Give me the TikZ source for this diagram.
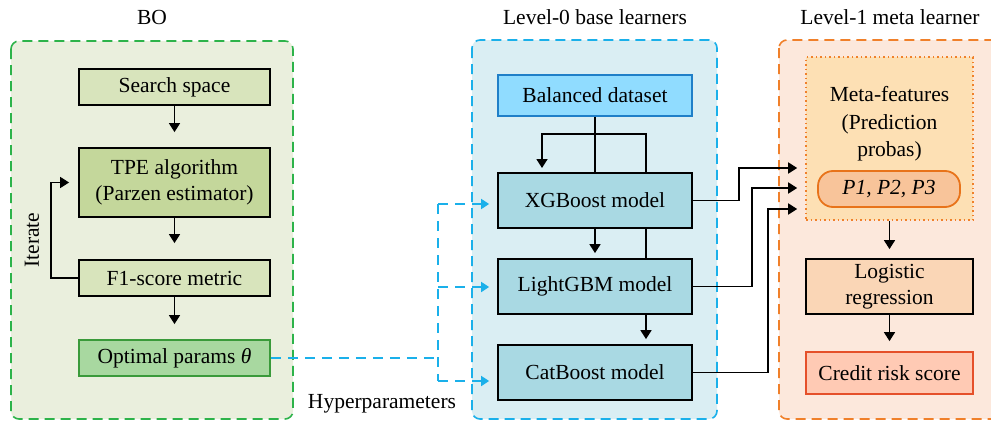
\documentclass[tikz,border=0pt]{standalone}
\usepackage{fontspec}
\setmainfont{Liberation Serif}
\usetikzlibrary{arrows.meta,calc}

% palette
\definecolor{boFill}{HTML}{EAEFDD}
\definecolor{boLine}{HTML}{2DB34A}
\definecolor{lgreen}{HTML}{D8E4BC}
\definecolor{mgreen}{HTML}{C4D79B}
\definecolor{optFill}{HTML}{A8D8A0}
\definecolor{optLine}{HTML}{3A9A3A}
\definecolor{lzFill}{HTML}{DAEEF3}
\definecolor{lzLine}{HTML}{1AB0EA}
\definecolor{balFill}{HTML}{90DCFF}
\definecolor{balLine}{HTML}{1F7FC8}
\definecolor{modFill}{HTML}{A9D9E3}
\definecolor{loFill}{HTML}{FCE8DC}
\definecolor{loLine}{HTML}{F0802A}
\definecolor{metaFill}{HTML}{FDE0B4}
\definecolor{pFill}{HTML}{F8C49A}
\definecolor{pLine}{HTML}{E8731A}
\definecolor{logFill}{HTML}{FAD6B6}
\definecolor{crFill}{HTML}{FFCAB4}
\definecolor{crLine}{HTML}{E5502A}

\tikzset{
  panel/.style={line width=1.6pt, rounded corners=8pt, dash pattern=on 10pt off 6pt},
  block/.style={draw, line width=1.8pt, inner sep=0pt, align=center,
    font=\fontsize{21.5}{26}\selectfont},
  txt/.style={inner sep=0pt, align=center, font=\fontsize{21.5}{27.5}\selectfont},
  arr/.style={line width=1.7pt, -{Triangle[width=11pt,length=9pt]}},
  link/.style={line width=1.7pt},
  hyp/.style={line width=1.8pt, draw=lzLine, dash pattern=on 10pt off 7pt},
  hyparr/.style={hyp, -{Triangle[width=10pt,length=8pt]}},
}

\begin{document}
\begin{tikzpicture}[x=1pt,y=-1pt]
\useasboundingbox (0,0) rectangle (991,423);
\clip (0,0) rectangle (991,423);

% ---- panels ----
\draw[panel, fill=boFill, draw=boLine] (11,41) rectangle (293,419);
\draw[panel, fill=lzFill, draw=lzLine] (472,40) rectangle (717,419);
\draw[panel, fill=loFill, draw=loLine] (779,40) rectangle (1005,419);

\node[txt] (tBO) at (152,17) {BO};
\node[txt] (tL0) at (595,17) {Level-0 base learners};
\node[txt] (tL1) at (890,17) {Level-1 meta learner};

% ---- Bayesian optimisation ----
\node[block, fill=lgreen, minimum width=191pt, minimum height=36pt] (search) at (174.5,87) {Search space};
\node[block, fill=mgreen, minimum width=191pt, minimum height=69pt] (tpe) at (174.5,182.5) {TPE algorithm\\(Parzen estimator)};
\node[block, fill=lgreen, minimum width=191pt, minimum height=36pt] (f1) at (174.5,278) {F1-score metric};
\node[block, fill=optFill, draw=optLine, minimum width=191pt, minimum height=36pt] (opt) at (174.5,358) {Optimal params \textit{θ}};
\node[txt, rotate=90] (iter) at (32,240) {Iterate};

\draw[arr, shorten >=15pt] (search) -- (tpe);
\draw[arr, shorten >=16pt] (tpe) -- (f1);
\draw[arr, shorten >=15pt] (f1) -- (opt);
\draw[arr, shorten >=9pt] (f1.west) -- ++(-27,0) |- (tpe.west);

% ---- level-0 base learners ----
\node[block, fill=balFill, draw=balLine, minimum width=194pt, minimum height=41pt] (bal) at (595,95.5) {Balanced dataset};

\coordinate (j0) at (595,134);
\draw[link] (bal.south) -- (595,173);
\draw[arr, shorten >=5pt] (j0) -| (542,173);
\draw[link] (j0) -| (646,173);
\draw[link] (646,228) -- (646,259);

\node[block, fill=modFill, minimum width=194pt, minimum height=55pt] (xgb) at (595,200.5) {XGBoost model};
\node[block, fill=modFill, minimum width=194pt, minimum height=55pt] (lgb) at (595,286.5) {LightGBM model};
\node[block, fill=modFill, minimum width=194pt, minimum height=55pt] (cat) at (595,372.5) {CatBoost model};

\draw[arr, shorten >=5pt] (xgb) -- (lgb);
\draw[arr, shorten >=5pt] ([xshift=51pt]lgb.south) -- ([xshift=51pt]cat.north);

% ---- hyperparameter hand-off ----
\coordinate (hb) at (438,358);
\draw[hyp] (opt.east) -- (hb);
\draw[hyp] (438,204) -- (438,381);
\draw[hyparr] (438,204) -- ([xshift=-8pt,yshift=-3.5pt]xgb.west);
\draw[hyparr] (438,287) -- ([xshift=-8pt,yshift=-0.5pt]lgb.west);
\draw[hyparr] (438,381) -- ([xshift=-8pt,yshift=-8.5pt]cat.west);
\node[txt, anchor=base] (hyplab) at (382,408) {Hyperparameters};

% ---- level-1 meta learner ----
\node[draw=loLine, fill=metaFill, line width=1.6pt, dash pattern=on 1.5pt off 3pt,
      minimum width=167pt, minimum height=163pt, inner sep=0pt] (meta) at (889.5,138.5) {};
\node[txt] (metatxt) at (889.5,124) {Meta-features\\(Prediction\\probas)};
\node[block, fill=pFill, draw=pLine, rounded corners=15pt, minimum width=142pt, minimum height=36pt] (probs) at (889,189) {\textit{P1, P2, P3}};
\node[block, fill=logFill, minimum width=167pt, minimum height=55pt] (logit) at (889.5,286.5) {Logistic\\regression};
\node[block, fill=crFill, draw=crLine, minimum width=167pt, minimum height=42pt] (credit) at (889.5,373) {Credit risk score};

\draw[arr, shorten >=9pt] (meta.south) -- (logit.north);
\draw[arr, shorten >=10pt] (logit) -- (credit);

\draw[arr, shorten >=8pt] (xgb.east) -- ++(46,0) |- ([yshift=-29.5pt]meta.west);
\draw[arr, shorten >=8pt] (lgb.east) -- ++(59,0) |- ([yshift=-49.5pt]meta.west);
\draw[arr, shorten >=8pt] (cat.east) -- ++(75,0) |- ([yshift=-70.5pt]meta.west);
\end{tikzpicture}
\end{document}
